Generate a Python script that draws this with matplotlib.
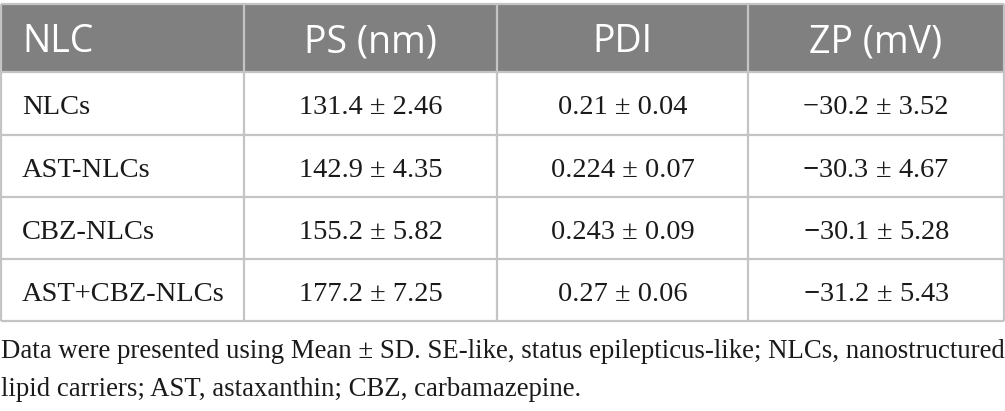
import matplotlib.pyplot as plt
from matplotlib.patches import Rectangle

# table content
headers = ["NLC", "PS (nm)", "PDI", "ZP (mV)"]
formulations = ["NLCs", "AST-NLCs", "CBZ-NLCs", "AST+CBZ-NLCs"]
ps_values = ["131.4 ± 2.46", "142.9 ± 4.35", "155.2 ± 5.82", "177.2 ± 7.25"]
pdi_values = ["0.21 ± 0.04", "0.224 ± 0.07", "0.243 ± 0.09", "0.27 ± 0.06"]
zp_values = ["\u221230.2 ± 3.52", "\u221230.3 ± 4.67", "\u221230.1 ± 5.28", "\u221231.2 ± 5.43"]
caption = ["Data were presented using Mean ± SD. SE-like, status epilepticus-like; NLCs, nanostructured",
           "lipid carriers; AST, astaxanthin; CBZ, carbamazepine."]
# the source prints a heavier minus in the last three ZP rows
heavy_minus = [False, True, True, True]

# fonts
sans = "Open Sans"
serif = "Liberation Serif"
plt.rcParams["mathtext.fontset"] = "custom"
plt.rcParams["mathtext.rm"] = serif
plt.rcParams["mathtext.bf"] = serif + ":bold"

# layout in pixels
W, H = 1005, 411
col_edges = [1, 244, 497, 748, 1004]
row_edges = [4, 72, 135, 197, 259, 321]
grey = "#808080"
line_col = "#c4c4c4"
txt_col = "#1a1a1a"

fig = plt.figure(figsize=(W / 100, H / 100), dpi=100)
ax = fig.add_axes([0, 0, 1, 1])
ax.set_xlim(0, W)
ax.set_ylim(H, 0)
ax.axis("off")

# header band
ax.add_patch(Rectangle((col_edges[0], row_edges[0]), col_edges[-1] - col_edges[0],
                       row_edges[1] - row_edges[0], facecolor=grey, edgecolor="none"))

# grid lines
ax.hlines(row_edges, col_edges[0], col_edges[-1], color=line_col, lw=1.6)
ax.vlines(col_edges, row_edges[0], row_edges[-1], color=line_col, lw=1.6)

for j, h in enumerate(headers):
    yb = row_edges[0] + 48
    if j == 0:
        ax.text(col_edges[0] + 21, yb, h, color="white", fontsize=27, family=sans,
                ha="left", va="baseline")
    else:
        ax.text((col_edges[j] + col_edges[j + 1]) / 2, yb, h, color="white", fontsize=27,
                family=sans, ha="center", va="baseline")

columns = [formulations, ps_values, pdi_values, zp_values]
for j, col in enumerate(columns):
    for i, val in enumerate(col):
        yb = row_edges[i + 1] + 42
        if j == 0:
            ax.text(col_edges[0] + 21, yb, val, fontsize=20.5, family=serif, color=txt_col,
                    ha="left", va="baseline")
        else:
            if j == 3 and heavy_minus[i]:
                val = r"$\mathbf{-}$" + val[1:]
            ax.text((col_edges[j] + col_edges[j + 1]) / 2, yb, val, fontsize=20.5, family=serif,
                    color=txt_col, ha="center", va="baseline")

# footnote
ax.text(1, 358, caption[0], fontsize=19.3, family=serif, color=txt_col, ha="left", va="baseline")
ax.text(1, 396, caption[1], fontsize=19.3, family=serif, color=txt_col, ha="left", va="baseline")

fig.savefig("out.png", dpi=100)
